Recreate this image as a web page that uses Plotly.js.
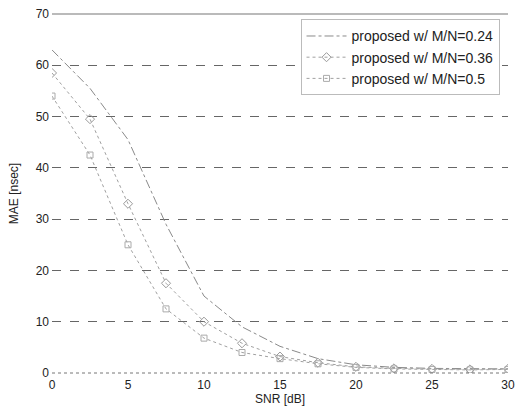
<!DOCTYPE html>
<html>
<head>
<meta charset="utf-8">
<script src="https://cdn.plot.ly/plotly-3.0.1.min.js"></script>
<style>html,body{margin:0;padding:0;background:#fff;}#chart{width:523px;height:408px;}</style>
</head>
<body>
<div id="chart"></div>
<script>
const snr = [0, 2.5, 5, 7.5, 10, 12.5, 15, 17.5, 20, 22.5, 25, 27.5, 30];
const mae024 = [63, 55.5, 45.5, 29, 15, 9, 5.2, 2.8, 1.6, 1.1, 0.9, 0.8, 0.8];
const mae036 = [58.5, 49.5, 33, 17.5, 10, 5.8, 3.2, 2.0, 1.2, 0.9, 0.8, 0.7, 0.8];
const mae05 = [54, 42.5, 25, 12.5, 6.8, 4.0, 2.8, 1.8, 1.1, 0.8, 0.7, 0.6, 0.7];
const names = ['proposed w/ M/N=0.24', 'proposed w/ M/N=0.36', 'proposed w/ M/N=0.5'];
const xTicks = [0, 5, 10, 15, 20, 25, 30];
const yTicks = [0, 10, 20, 30, 40, 50, 60, 70];

const traces = [
  {x: snr, y: mae024, name: names[0], mode: 'lines', type: 'scatter',
   line: {color: '#8a8a8a', width: 1, dash: 'dashdot'}},
  {x: snr, y: mae036, name: names[1], mode: 'lines+markers', type: 'scatter',
   line: {color: '#a0a0a0', width: 1, dash: 'dot'},
   marker: {symbol: 'diamond-open', size: 7, color: '#999', line: {width: 1}}},
  {x: snr, y: mae05, name: names[2], mode: 'lines+markers', type: 'scatter',
   line: {color: '#a0a0a0', width: 1, dash: 'dot'},
   marker: {symbol: 'square-open', size: 6, color: '#aaa', line: {width: 1}}}
];

const layout = {
  width: 523, height: 408,
  margin: {l: 52, r: 15, t: 14, b: 35},
  paper_bgcolor: '#fff', plot_bgcolor: '#fff',
  font: {family: 'Liberation Sans, Arial, sans-serif', size: 12, color: '#222'},
  showlegend: true,
  legend: {x: 0.545, y: 0.985, xanchor: 'left', yanchor: 'top',
    bgcolor: 'rgba(255,255,255,1)', bordercolor: '#bbb', borderwidth: 1,
    font: {size: 14, color: '#222'}, tracegroupgap: 0, itemwidth: 40},
  xaxis: {range: [0, 30], tickvals: xTicks, ticktext: xTicks.map(String),
    showgrid: false, zeroline: false, showline: false, ticks: '',
    ticklabelstandoff: 3,
    tickfont: {size: 12, color: '#222'},
    title: {text: 'SNR [dB]', standoff: 2, font: {size: 12, color: '#222'}}},
  yaxis: {range: [0, 70], tickvals: yTicks, ticktext: yTicks.map(String),
    showgrid: true, gridcolor: '#666', griddash: 'dash', gridwidth: 1,
    zeroline: false, showline: false, ticks: '',
    ticklabelstandoff: 2,
    tickfont: {size: 12, color: '#222'},
    title: {text: 'MAE [nsec]', standoff: 14, font: {size: 12, color: '#222'}}},
  shapes: [
    {type: 'line', xref: 'paper', yref: 'paper', x0: 0, x1: 1, y0: 1, y1: 1,
     line: {color: '#777', width: 1.2}},
    {type: 'line', xref: 'paper', yref: 'paper', x0: 0, x1: 1, y0: 0, y1: 0,
     line: {color: '#777', width: 1, dash: 'dot'}}
  ]
};

Plotly.newPlot('chart', traces, layout, {displayModeBar: false, staticPlot: true});
</script>
</body>
</html>
